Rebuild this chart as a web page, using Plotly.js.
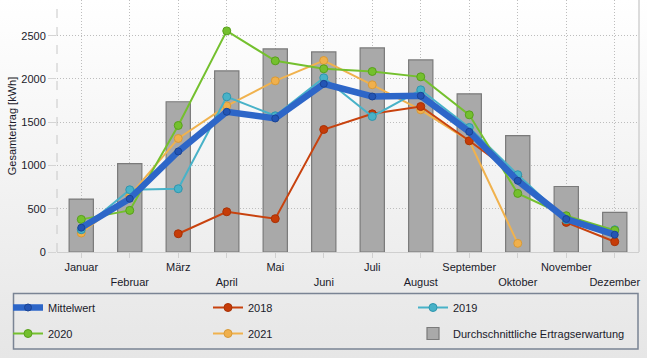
<!DOCTYPE html>
<html>
<head>
<meta charset="utf-8">
<script src="https://cdn.plot.ly/plotly-3.0.1.min.js"></script>
<style>
html,body{margin:0;padding:0;}
body{width:647px;height:358px;background:linear-gradient(to bottom,#ffffff 0%,#f4f4f4 45%,#e6e6e6 100%);}
#chart{width:647px;height:358px;}
</style>
</head>
<body>
<div id="chart"></div>
<script>
const months = ["Januar","Februar","März","April","Mai","Juni","Juli","August","September","Oktober","November","Dezember"];
const erwartung = [612,1022,1736,2093,2347,2312,2358,2220,1828,1344,757,457];
const mittelwert = [281,615,1162,1620,1543,1943,1797,1805,1389,823,381,200];
const y2018 = [null,null,211,465,385,1416,1597,1681,1285,873,342,119];
const y2019 = [257,719,731,1793,1574,2013,1566,1874,1439,893,373,257];
const y2020 = [377,481,1462,2555,2209,2117,2086,2024,1585,677,419,250];
const y2021 = [219,650,1312,1689,1978,2213,1932,1643,1285,100,null,null];
const yTicks = [0,500,1000,1500,2000,2500];

const tickText = months.map((m,i)=> i%2===0 ? m : "<br>"+m);

function yearTrace(name, y, line, fill, outline, legend, rank){
  return {type:'scatter', mode:'lines+markers', name:name, x:months, y:y,
    line:{color:line, width:2}, marker:{size:8, color:fill, line:{color:outline,width:1}},
    legend:legend, legendgroup:name, legendrank:rank, cliponaxis:false};
}

const data = [
  {type:'bar', name:'Durchschnittliche Ertragserwartung', x:months, y:erwartung, width:0.5,
   marker:{color:'#a9a9a9', line:{color:'#7a7a7a', width:1.2}},
   legend:'legend3', legendgroup:'erw', legendrank:2},
  yearTrace('2021', y2021, '#f0b24e', '#f0b04c', '#d89a38', 'legend2', 2),
  yearTrace('2018', y2018, '#c8420e', '#c63c08', '#a83206', 'legend2', 1),
  yearTrace('2019', y2019, '#48b2c8', '#48b2c8', '#2f96ae', 'legend3', 1),
  yearTrace('2020', y2020, '#74c02e', '#74c02e', '#58a01c', 'legend', 2),
  {type:'scatter', mode:'lines+markers', name:'Mittelwert', x:months, y:mittelwert,
   line:{color:'#2d66c8', width:6.5}, marker:{size:7, color:'#2355b5', line:{color:'#1a4494', width:1}},
   legend:'legend', legendgroup:'mw', legendrank:1}
];

const L = 57, W = 582, H = 252;
const px = v => (v - L) / W;
const py = v => (H - v) / H;

function leg(xPix){
  return {orientation:'v', x:px(xPix), y:py(293), xanchor:'left', yanchor:'top',
    bgcolor:'rgba(0,0,0,0)', borderwidth:0, font:{size:11},
    tracegroupgap:7, traceorder:'grouped', itemwidth:30};
}

const layout = {
  width:647, height:358,
  paper_bgcolor:'rgba(0,0,0,0)', plot_bgcolor:'rgba(0,0,0,0)',
  margin:{l:57, r:8, t:0, b:106},
  font:{family:'Liberation Sans, Arial, sans-serif', size:11, color:'#1a1a2a'},
  showlegend:true,
  xaxis:{type:'category', range:[-0.5,11.5], tickvals:months, ticktext:tickText, tickangle:0,
    showgrid:true, gridcolor:'#bdbdbd', griddash:'1px,2px', gridwidth:1,
    ticks:'outside', ticklen:5, tickcolor:'#d0d0d0',
    showline:true, linecolor:'#cfcfcf', linewidth:1, mirror:false,
    tickfont:{size:11}, fixedrange:true, automargin:false},
  yaxis:{range:[0,2912], tickvals:yTicks, ticktext:yTicks.map(String),
    showgrid:true, gridcolor:'#bdbdbd', griddash:'1px,2px', gridwidth:1,
    zeroline:false, ticks:'outside', ticklen:8, tickcolor:'#d4d4d4',
    showline:false, automargin:false,
    title:{text:'Gesamtertrag [kWh]', font:{size:11}, standoff:2},
    tickfont:{size:11}},
  legend: leg(8),
  legend2: leg(208),
  legend3: leg(413),
  shapes:[
    {type:'line', xref:'paper', yref:'paper', x0:0, x1:0, y0:0, y1:1, line:{color:'#c8c8c8', width:1, dash:'dash'}},
    {type:'line', xref:'paper', yref:'paper', x0:1, x1:1, y0:0, y1:1, line:{color:'#d0d0d0', width:1.5}},
    {type:'rect', xref:'paper', yref:'paper', x0:px(13.5), x1:px(638), y0:py(293.5), y1:py(349), line:{color:'#7a8494', width:1.5}, fillcolor:'rgba(0,0,0,0)'}
  ]
};

Plotly.newPlot('chart', data, layout, {displayModeBar:false, staticPlot:true});
</script>
</body>
</html>
